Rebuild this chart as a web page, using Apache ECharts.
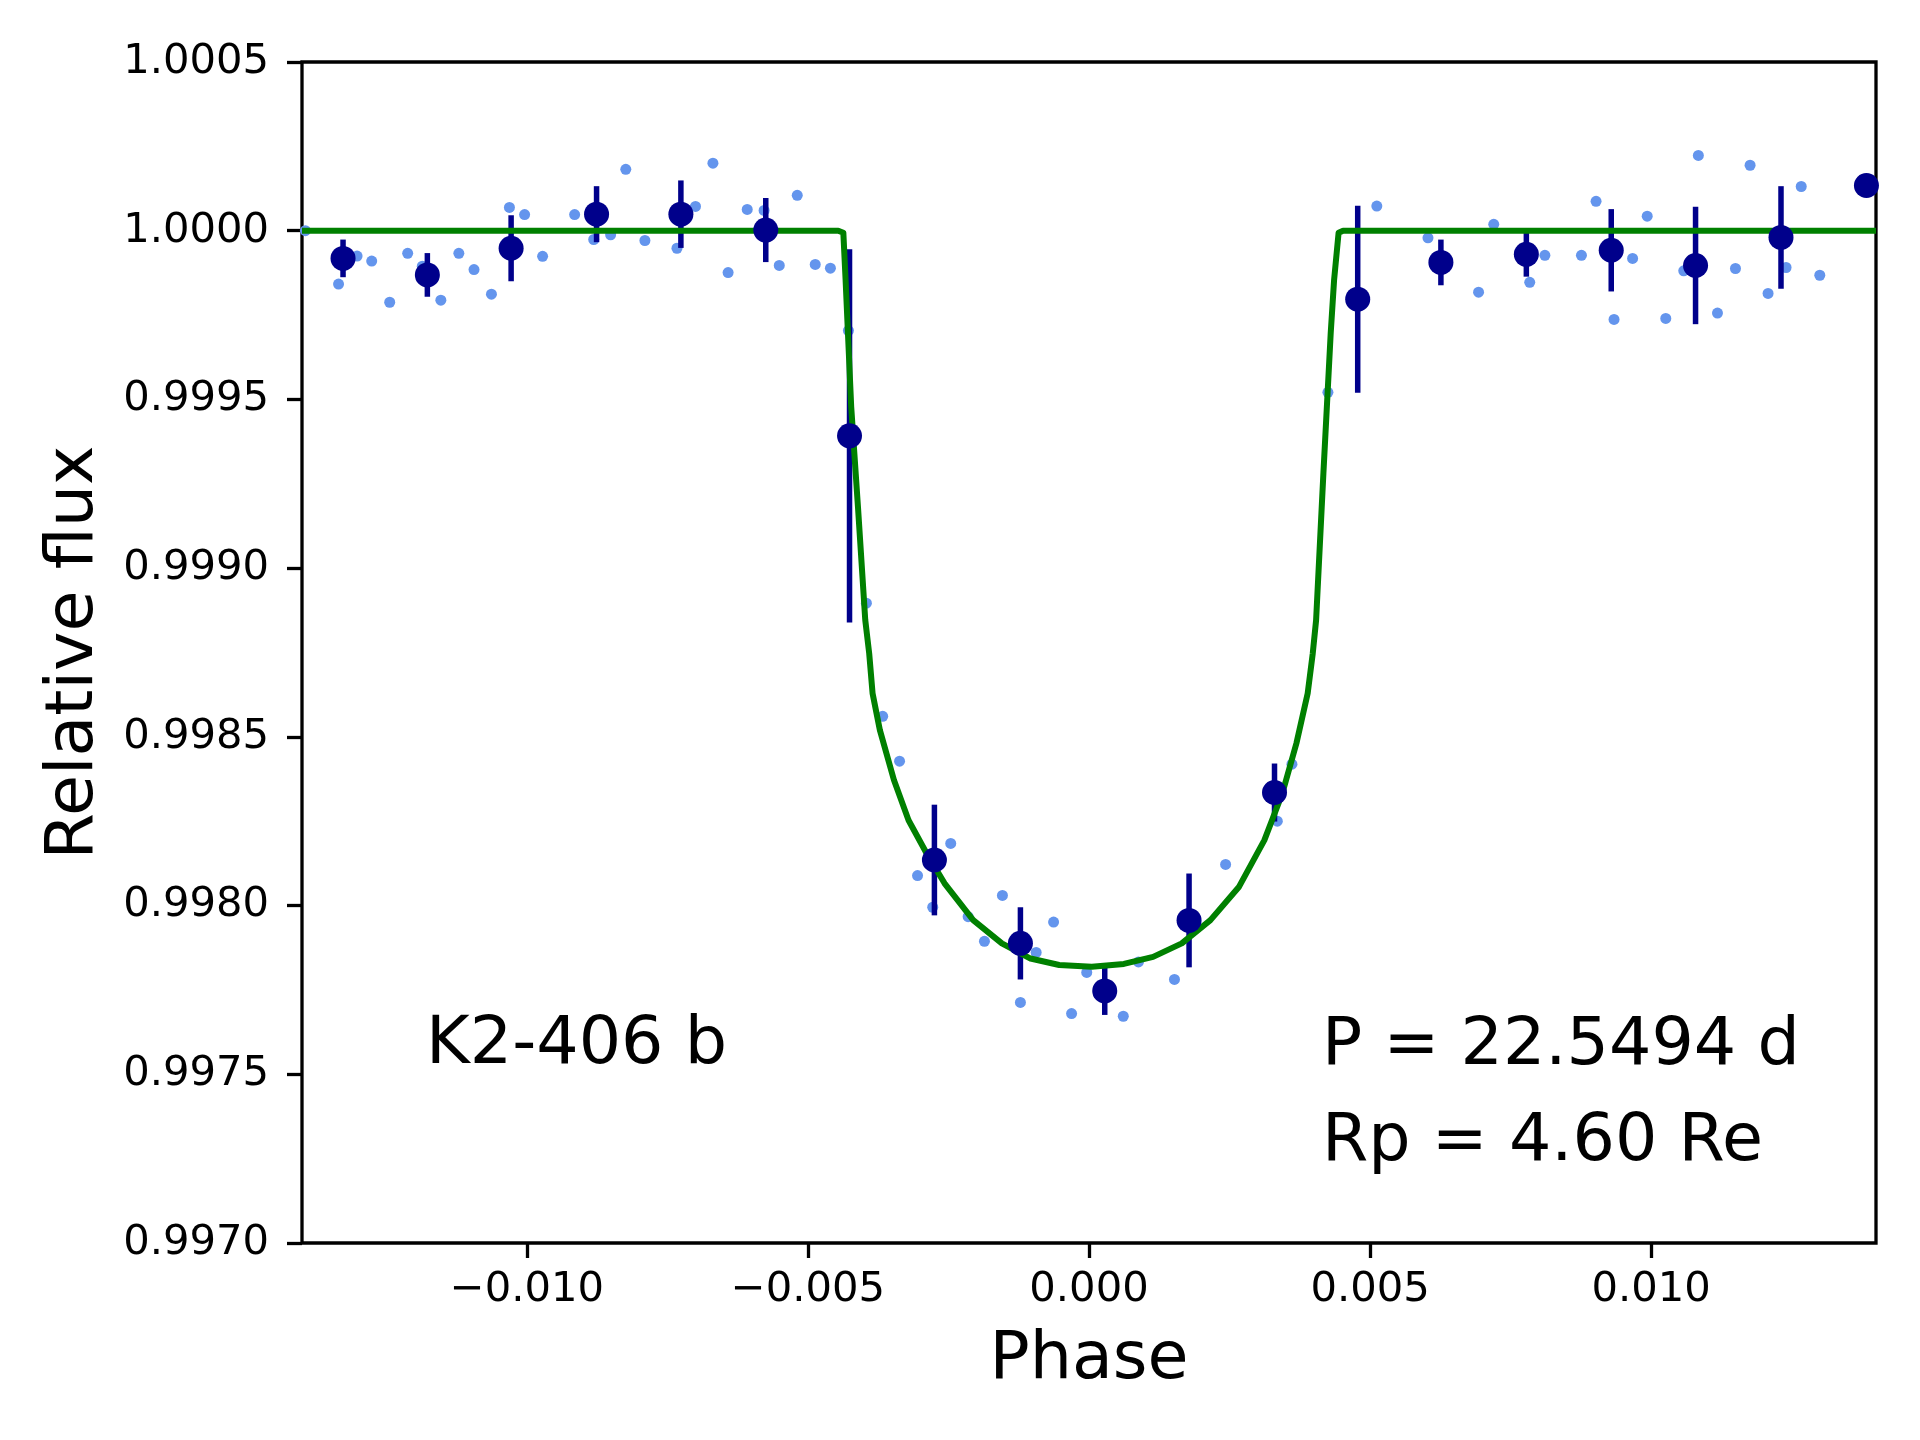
<!DOCTYPE html>
<html>

<head>
    <meta charset="utf-8" />
    <script src="https://cdn.jsdelivr.net/npm/echarts@6/dist/echarts.min.js"></script>
</head>

<body>
    <style>
        html,
        body {
            margin: 0;
            background: #fff;
        }

        #main {
            width: 1920px;
            height: 1440px;
        }
    </style>
    <div id="main"></div>

    <script type="text/javascript">
        // unbinned light curve points (phase, relative flux)
        var rawPhase = [
            -0.01394, -0.01335, -0.01302, -0.01276, -0.01244, -0.01212, -0.01186, -0.01153, -0.01121, -0.01094,
            -0.01063, -0.01031, -0.01004, -0.00972, -0.00915, -0.00881, -0.00851, -0.00824, -0.00790, -0.00733,
            -0.00700, -0.00669, -0.00642, -0.00608, -0.00578, -0.00551, -0.00519, -0.00487, -0.00460, -0.00428,
            -0.00396, -0.00367, -0.00337, -0.00305, -0.00278, -0.00246, -0.00215, -0.00186, -0.00154, -0.00122,
            -0.00094, -0.00063, -0.00031, -0.00004, 0.00061, 0.00088, 0.00152, 0.00243, 0.00335, 0.00361,
            0.00425, 0.00512, 0.00603, 0.00693, 0.00720, 0.00784, 0.00811, 0.00876, 0.00902, 0.00934,
            0.00967, 0.00993, 0.01026, 0.01058, 0.01084, 0.01118, 0.01150, 0.01176, 0.01208, 0.01240,
            0.01267, 0.01300
        ];
        var rawFlux = [
            1.000000, 0.999842, 0.999925, 0.999910, 0.999788, 0.999933, 0.999895, 0.999794, 0.999933, 0.999885,
            0.999812, 1.000069, 1.000048, 0.999924, 1.000048, 0.999974, 0.999988, 1.000182, 0.999971, 0.999948,
            1.000072, 1.000200, 0.999876, 1.000063, 1.000060, 0.999897, 1.000105, 0.999900, 0.999889, 0.999704,
            0.998896, 0.998561, 0.998428, 0.998089, 0.997995, 0.998184, 0.997967, 0.997894, 0.998030, 0.997713,
            0.997861, 0.997951, 0.997680, 0.997802, 0.997672, 0.997833, 0.997781, 0.998122, 0.998250, 0.998419,
            0.999521, 1.000073, 0.999979, 0.999818, 1.000019, 0.999847, 0.999927, 0.999927, 1.000087, 0.999737,
            0.999918, 1.000043, 0.999740, 0.999881, 1.000223, 0.999756, 0.999888, 1.000194, 0.999814, 0.999891,
            1.000131, 0.999868
        ];

        // binned points with 1-sigma errors
        var binPhase = [
            -0.01327, -0.01177, -0.01028, -0.00876, -0.00726, -0.00575, -0.00426, -0.00275, -0.00122, 0.00028,
            0.00178, 0.00330, 0.00478, 0.00626, 0.00778, 0.00929, 0.01079, 0.01231, 0.01383
        ];
        var binFlux = [
            0.999918, 0.999869, 0.999948, 1.000049, 1.000049, 1.000002, 0.999392, 0.998135, 0.997888, 0.997747,
            0.997956, 0.998335, 0.999797, 0.999906, 0.999930, 0.999942, 0.999897, 0.999980, 1.000134
        ];
        var binErr = [
            0.0000558, 0.0000647, 0.0000978, 0.0000830, 0.0001000, 0.0000950, 0.000553, 0.000164, 0.000107, 0.0000711,
            0.000139, 0.0000860, 0.000277, 0.0000677, 0.0000662, 0.000122, 0.000174, 0.000152, 0
        ];

        // transit model
        var modelPhase = [
            -0.01400, -0.00446, -0.00437, -0.00433, -0.00423, -0.00411, -0.00398, -0.00391, -0.00385, -0.00372,
            -0.00347, -0.00321, -0.00289, -0.00257, -0.00206, -0.00155, -0.00104, -0.00053, 0.00005, 0.00062,
            0.00114, 0.00165, 0.00216, 0.00267, 0.00312, 0.00344, 0.00369, 0.00389, 0.00398, 0.00404,
            0.00417, 0.00430, 0.00436, 0.00444, 0.00452, 0.01400
        ];
        var modelFlux = [
            1.000000, 1.000000, 0.999994, 0.999854, 0.999478, 0.999182, 0.998846, 0.998747, 0.998629, 0.998520,
            0.998372, 0.998253, 0.998155, 0.998066, 0.997957, 0.997888, 0.997843, 0.997824, 0.997819, 0.997827,
            0.997848, 0.997888, 0.997957, 0.998056, 0.998194, 0.998333, 0.998481, 0.998629, 0.998747, 0.998846,
            0.999282, 0.999697, 0.999854, 0.999994, 1.000000, 1.000000
        ];

        var xTicks = [-0.010, -0.005, 0.000, 0.005, 0.010];

        function zip() {
            var cols = Array.prototype.slice.call(arguments);
            return cols[0].map(function (_, i) {
                return cols.map(function (c) { return c[i]; });
            });
        }

        var FONT = 'DejaVu Sans';
        var chart = echarts.init(document.getElementById('main'));

        chart.setOption({
            animation: false,
            backgroundColor: '#fff',
            textStyle: {
                fontFamily: FONT,
            },
            grid: {
                left: 302,
                right: 44,
                top: 62,
                bottom: 197,
                show: true,
                borderColor: '#000',
                borderWidth: 3.3,
                backgroundColor: 'transparent',
            },
            xAxis: {
                type: 'value',
                min: -0.014,
                max: 0.014,
                name: 'Phase',
                nameLocation: 'middle',
                nameGap: 84,
                nameTextStyle: { fontSize: 66.7, color: '#000', fontFamily: FONT },
                axisLine: { show: false, onZero: false },
                splitLine: { show: false },
                axisTick: {
                    customValues: xTicks,
                    length: 15,
                    lineStyle: { color: '#000', width: 3.3 },
                },
                axisLabel: {
                    customValues: xTicks,
                    margin: 26,
                    fontSize: 41.7,
                    color: '#000',
                    formatter: function (v) {
                        return (v < -1e-9 ? '\u2212' : '') + Math.abs(v).toFixed(3);
                    },
                },
            },
            yAxis: {
                type: 'value',
                min: 0.997,
                max: 1.0005,
                interval: 0.0005,
                name: 'Relative flux',
                nameLocation: 'middle',
                nameRotate: 90,
                nameGap: 194,
                nameTextStyle: { fontSize: 66.7, color: '#000', fontFamily: FONT },
                axisLine: { show: false, onZero: false },
                splitLine: { show: false },
                axisTick: {
                    length: 15,
                    lineStyle: { color: '#000', width: 3.3 },
                },
                axisLabel: {
                    margin: 33,
                    fontSize: 41.7,
                    color: '#000',
                    formatter: function (v) { return v.toFixed(4); },
                },
            },
            series: [
                {
                    type: 'scatter',
                    name: 'data',
                    data: zip(rawPhase, rawFlux),
                    symbolSize: 11,
                    itemStyle: { color: '#6495ed', opacity: 1 },
                    z: 1,
                    silent: true,
                },
                {
                    type: 'custom',
                    name: 'errors',
                    data: zip(binPhase, binFlux, binErr),
                    renderItem: function (params, api) {
                        var x = api.value(0), y = api.value(1), e = api.value(2);
                        var p1 = api.coord([x, y + e]);
                        var p2 = api.coord([x, y - e]);
                        return {
                            type: 'line',
                            shape: { x1: p1[0], y1: p1[1], x2: p2[0], y2: p2[1] },
                            style: { stroke: '#00008b', lineWidth: 5.5 },
                        };
                    },
                    z: 2,
                    silent: true,
                },
                {
                    type: 'line',
                    name: 'model',
                    data: zip(modelPhase, modelFlux),
                    showSymbol: false,
                    lineStyle: { color: '#008000', width: 6, join: 'round' },
                    z: 3,
                    silent: true,
                },
                {
                    type: 'scatter',
                    name: 'binned',
                    data: zip(binPhase, binFlux),
                    symbolSize: 25,
                    itemStyle: { color: '#00008b', opacity: 1 },
                    z: 4,
                    silent: true,
                },
            ],
            graphic: [
                {
                    type: 'text',
                    x: 426,
                    y: 1046,
                    style: {
                        text: 'K2-406 b',
                        font: 'normal 66.7px "DejaVu Sans"',
                        fill: '#000',
                        verticalAlign: 'middle',
                    },
                },
                {
                    type: 'text',
                    x: 1322,
                    y: 1047,
                    style: {
                        text: 'P = 22.5494 d',
                        font: 'normal 66.7px "DejaVu Sans"',
                        fill: '#000',
                        verticalAlign: 'middle',
                    },
                },
                {
                    type: 'text',
                    x: 1322,
                    y: 1143,
                    style: {
                        text: 'Rp = 4.60 Re',
                        font: 'normal 66.7px "DejaVu Sans"',
                        fill: '#000',
                        verticalAlign: 'middle',
                    },
                },
            ],
        });

        window.addEventListener('resize', function () {
            chart.resize();
        });
    </script>
</body>

</html>
